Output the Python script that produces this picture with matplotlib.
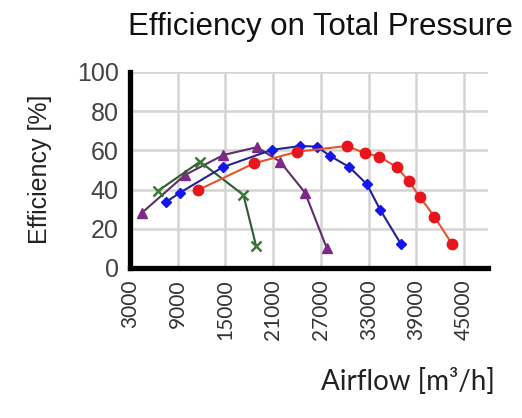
import matplotlib.pyplot as plt

# data
purple_x = [4470, 9900, 14740, 18940, 21870, 25000, 27740]
purple_y = [28, 47.4, 57.6, 61.6, 54.2, 38.4, 10]

green_x = [6560, 11800, 17260, 18850]
green_y = [39.4, 54.2, 37.2, 11.2]

blue_x = [7490, 9290, 14660, 20800, 24380, 26480, 28160, 30580, 32770, 34450, 37050]
blue_y = [33.5, 38.4, 51.4, 60.2, 62.2, 61.9, 57.1, 51.4, 42.7, 29.6, 12.2]

red_x = [11590, 18600, 24040, 30250, 32560, 34320, 36540, 38010, 39390, 41250, 43470]
red_y = [39.8, 53.4, 59.3, 62.2, 58.5, 56.8, 51.4, 44.4, 36.4, 26.2, 12.2]

x_ticks = [3000, 9000, 15000, 21000, 27000, 33000, 39000, 45000]
y_ticks = [0, 20, 40, 60, 80, 100]

fig = plt.figure(figsize=(5.22, 4.18), dpi=100)
ax = fig.add_axes([0.249, 0.359, 0.686, 0.469])

ax.plot(purple_x, purple_y, color='#5e2f66', lw=1.5, marker='^', ms=6.5,
        mfc='#7d2a86', mec='#7d2a86', zorder=3)
ax.plot(green_x, green_y, color='#2f5a2f', lw=1.5, marker='x', ms=6.5,
        mec='#3a7a35', mew=1.8, zorder=3)
ax.plot(blue_x, blue_y, color='#23238f', lw=1.5, marker='D', ms=5.5,
        mfc='#1515ee', mec='#1515ee', zorder=3)
ax.plot(red_x, red_y, color='#e2552d', lw=1.5, marker='o', ms=7.5,
        mfc='#e8161c', mec='#e8161c', zorder=3)

ax.set_xlim(3000, 48000)
ax.set_ylim(0, 100)
ax.set_xticks(x_ticks)
ax.set_yticks(y_ticks)
ax.grid(True, color='#d4d4d4', lw=1.8)
ax.set_axisbelow(True)

for s in ['top', 'right']:
    ax.spines[s].set_visible(False)
for s in ['left', 'bottom']:
    ax.spines[s].set_linewidth(3.8)
    ax.spines[s].set_color('black')

ax.tick_params(axis='both', length=0)
ax.tick_params(axis='y', labelsize=18, labelcolor='#444444', pad=8)
ax.tick_params(axis='x', labelsize=15, labelcolor='#333333', labelrotation=90, pad=8)
for lbl in ax.get_yticklabels():
    lbl.set_family('Liberation Sans')
for lbl in ax.get_xticklabels():
    lbl.set_family('Lato')

fig.text(0.613, 0.935, 'Efficiency on Total Pressure', ha='center', va='center',
         fontsize=22.5, family='Liberation Sans', color='#111111')
fig.text(0.077, 0.595, 'Efficiency [%]', ha='center', va='center', rotation=90,
         fontsize=18, family='Liberation Sans', color='#222222')
fig.text(0.782, 0.088, 'Airflow [m³/h]', ha='center', va='center',
         fontsize=20, family='Lato', color='#222222')

fig.savefig('out.png', dpi=100)
